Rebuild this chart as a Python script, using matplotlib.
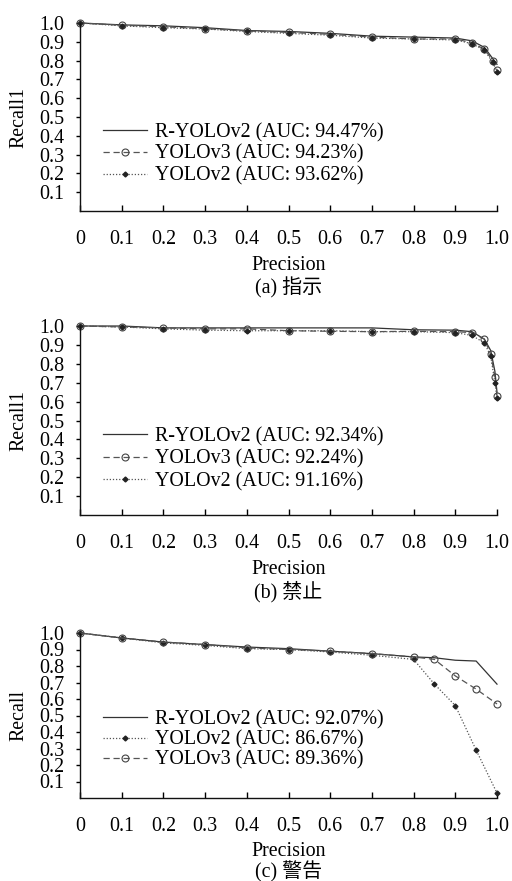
import matplotlib
matplotlib.use("Agg")
import matplotlib.pyplot as plt

plt.rcParams['font.family'] = ['Liberation Serif', 'Noto Sans CJK SC']

# ---------------- data ----------------
x_ticks = [0, 0.1, 0.2, 0.3, 0.4, 0.5, 0.6, 0.7, 0.8, 0.9, 1.0]
x_ticklabels = ["0", "0.1", "0.2", "0.3", "0.4", "0.5", "0.6", "0.7", "0.8", "0.9", "1.0"]
y_ticks = [0.1, 0.2, 0.3, 0.4, 0.5, 0.6, 0.7, 0.8, 0.9, 1.0]
y_ticklabels = ["0.1", "0.2", "0.3", "0.4", "0.5", "0.6", "0.7", "0.8", "0.9", "1.0"]

# panel (a) 指示
p_a = [0, 0.1, 0.2, 0.3, 0.4, 0.5, 0.6, 0.7, 0.8, 0.9, 0.94, 0.97, 0.99, 1.0]
r_a_ryolov2 = [1.0, 0.99, 0.985, 0.975, 0.96, 0.955, 0.945, 0.93, 0.925, 0.92, 0.905, 0.87, 0.81, 0.78]
r_a_yolov3 = [1.0, 0.988, 0.98, 0.97, 0.958, 0.95, 0.94, 0.925, 0.915, 0.915, 0.895, 0.86, 0.80, 0.75]
r_a_yolov2 = [1.0, 0.985, 0.975, 0.968, 0.955, 0.945, 0.935, 0.92, 0.915, 0.91, 0.89, 0.855, 0.79, 0.74]

# panel (b) 禁止
p_b = [0, 0.1, 0.2, 0.3, 0.4, 0.5, 0.6, 0.7, 0.8, 0.9, 0.94, 0.97, 0.985, 0.995, 1.0]
r_b_ryolov2 = [1.0, 1.0, 0.99, 0.99, 0.99, 0.99, 0.99, 0.99, 0.98, 0.978, 0.97, 0.93, 0.87, 0.76, 0.65]
r_b_yolov3 = [1.0, 0.995, 0.99, 0.985, 0.985, 0.975, 0.972, 0.97, 0.972, 0.97, 0.965, 0.93, 0.85, 0.73, 0.63]
r_b_yolov2 = [1.0, 0.995, 0.985, 0.978, 0.975, 0.975, 0.975, 0.97, 0.97, 0.965, 0.95, 0.91, 0.84, 0.70, 0.62]

# panel (c) 警告
p_c = [0, 0.1, 0.2, 0.3, 0.4, 0.5, 0.6, 0.7, 0.8, 0.85, 0.9, 0.95, 1.0]
r_c_ryolov2 = [1.0, 0.97, 0.945, 0.93, 0.915, 0.905, 0.89, 0.875, 0.855, 0.85, 0.835, 0.83, 0.69]
r_c_yolov3 = [1.0, 0.97, 0.945, 0.93, 0.91, 0.90, 0.89, 0.875, 0.855, 0.84, 0.74, 0.66, 0.57]
r_c_yolov2 = [1.0, 0.97, 0.94, 0.925, 0.905, 0.90, 0.885, 0.865, 0.84, 0.69, 0.56, 0.29, 0.03]

panels = [
    dict(p=p_a, series=[("R-YOLOv2 (AUC: 94.47%)", r_a_ryolov2, "solid"),
                        ("YOLOv3 (AUC: 94.23%)", r_a_yolov3, "v3"),
                        ("YOLOv2 (AUC: 93.62%)", r_a_yolov2, "v2")],
         ylabel="Recall1", caption="(a) 指示"),
    dict(p=p_b, series=[("R-YOLOv2 (AUC: 92.34%)", r_b_ryolov2, "solid"),
                        ("YOLOv3 (AUC: 92.24%)", r_b_yolov3, "v3"),
                        ("YOLOv2 (AUC: 91.16%)", r_b_yolov2, "v2")],
         ylabel="Recall1", caption="(b) 禁止"),
    dict(p=p_c, series=[("R-YOLOv2 (AUC: 92.07%)", r_c_ryolov2, "solid"),
                        ("YOLOv2 (AUC: 86.67%)", r_c_yolov2, "v2"),
                        ("YOLOv3 (AUC: 89.36%)", r_c_yolov3, "v3")],
         ylabel="Recall", caption="(c) 警告"),
]

# ---------------- layout ----------------
W, H = 512, 881
fig = plt.figure(figsize=(W / 100, H / 100), dpi=100)

boxes = [(80, 497, 23, 211), (80, 497, 326, 515), (80, 497, 633, 798)]
legend_tops = [123, 427, 710]
legend_spacing = [0.12, 0.16, 0.05]
xlabel_y = [266, 570, 851]
caption_y = [288, 592, 872]

FS = 14.4
for i, (panel, box) in enumerate(zip(panels, boxes)):
    l, r, t, b = box
    ax = fig.add_axes([l / W, (H - b) / H, (r - l) / W, (b - t) / H])
    for label, vals, kind in panel["series"]:
        if kind == "solid":
            ax.plot(panel["p"], vals, color="#333333", lw=0.9, ls="-", label=label, clip_on=False)
        elif kind == "v3":
            ax.plot(panel["p"], vals, color="#555555", lw=0.9, ls=(0, (5, 3)),
                    marker="o", ms=5, mfc="none", mec="#444444", mew=0.8,
                    label=label, clip_on=False)
        else:
            ax.plot(panel["p"], vals, color="#555555", lw=0.9, ls=(0, (1, 1.5)),
                    marker="D", ms=2.5, mfc="#222222", mec="#222222",
                    label=label, clip_on=False)
    ax.set_xlim(0, 1.0)
    ax.set_ylim(0, 1.0)
    for s in ("top", "right"):
        ax.spines[s].set_visible(False)
    for s in ("left", "bottom"):
        ax.spines[s].set_linewidth(1.0)
        ax.spines[s].set_color("#111111")
    ax.set_xticks(x_ticks)
    ax.set_xticklabels(x_ticklabels, fontsize=FS)
    ax.set_yticks(y_ticks)
    ax.set_yticklabels(y_ticklabels, fontsize=FS)
    ax.tick_params(axis="x", direction="in", length=4, width=1, pad=14)
    ax.tick_params(axis="y", direction="out", length=3, width=1, pad=8)
    ax.set_ylabel(panel["ylabel"], fontsize=FS, va="center")
    ax.yaxis.set_label_coords(-(l - 19) / (r - l), 0.5)
    ax.set_xlabel("Precision", fontsize=FS)
    ax.xaxis.set_label_coords(0.5, -(xlabel_y[i] - b) / (b - t))
    ax.xaxis.label.set_va("center")
    fig.text(0.5 * (l + r) / W, 1 - caption_y[i] / H, panel["caption"],
             ha="center", va="center", fontsize=FS)
    ax.legend(loc="upper left",
              bbox_to_anchor=((103 - l) / (r - l), (b - legend_tops[i]) / (b - t)),
              frameon=False, fontsize=FS, borderpad=0, borderaxespad=0,
              handlelength=2.2, handletextpad=0.4, labelspacing=legend_spacing[i],
              numpoints=1)

fig.savefig("out.png", dpi=100)
